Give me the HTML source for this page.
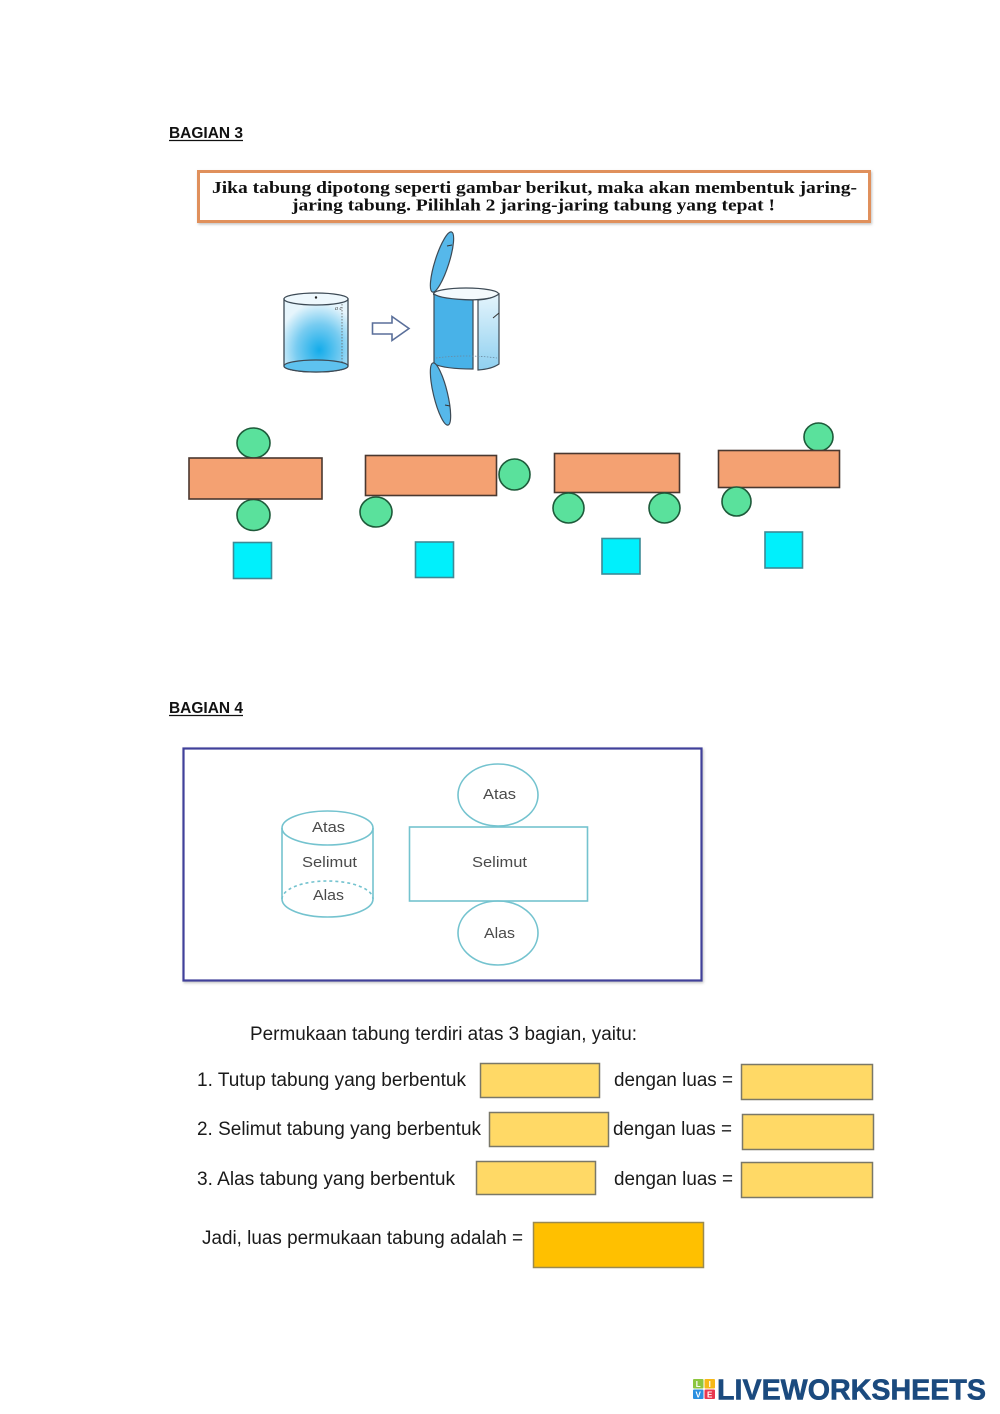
<!DOCTYPE html>
<html>
<head>
<meta charset="utf-8">
<style>
  html,body{margin:0;padding:0;background:#fff;}
  svg{display:block;}
</style>
</head>
<body>
<svg width="1000" height="1414" viewBox="0 0 1000 1414" xmlns="http://www.w3.org/2000/svg">
  <defs>
    <radialGradient id="cylGrad" cx="0.55" cy="0.7" r="0.65">
      <stop offset="0" stop-color="#14acea"/>
      <stop offset="0.55" stop-color="#78ccf1"/>
      <stop offset="1" stop-color="#e6f5fc"/>
    </radialGradient>
    <linearGradient id="rightPanel" x1="0" y1="0" x2="0" y2="1">
      <stop offset="0" stop-color="#e4f4fc"/>
      <stop offset="1" stop-color="#8fd0f0"/>
    </linearGradient>
    <filter id="sh" x="-5%" y="-20%" width="110%" height="140%">
      <feDropShadow dx="1" dy="1.5" stdDeviation="1.2" flood-color="#888" flood-opacity="0.5"/>
    </filter>
  </defs>

  <!-- BAGIAN 3 -->
  <text x="169" y="138" font-family="Liberation Sans, sans-serif" font-weight="bold" font-size="15.5" fill="#111" textLength="74" lengthAdjust="spacingAndGlyphs">BAGIAN 3</text>
  <line x1="169" y1="140.5" x2="243" y2="140.5" stroke="#111" stroke-width="1.2"/>

  <!-- Header box -->
  <rect x="198.5" y="171.5" width="671" height="50" fill="#fff" stroke="#e0905c" stroke-width="3" filter="url(#sh)"/>
  <text x="212" y="193" font-family="Liberation Serif, serif" font-weight="bold" font-size="17" fill="#111" textLength="645" lengthAdjust="spacingAndGlyphs">Jika tabung dipotong seperti gambar berikut, maka akan membentuk jaring-</text>
  <text x="292" y="210.5" font-family="Liberation Serif, serif" font-weight="bold" font-size="17" fill="#111" textLength="483" lengthAdjust="spacingAndGlyphs">jaring tabung. Pilihlah 2 jaring-jaring tabung yang tepat !</text>

  <!-- Cylinder 1 -->
  <path d="M284,299 L284,366 A32,6 0 0,0 348,366 L348,299 Z" fill="url(#cylGrad)" stroke="#3d4a55" stroke-width="1.3"/>
  <ellipse cx="316" cy="366" rx="32" ry="6" fill="#5ec2ef" stroke="#3d4a55" stroke-width="1.3"/>
  <ellipse cx="316" cy="299" rx="32" ry="6" fill="#eef8fd" stroke="#3d4a55" stroke-width="1.3"/>
  <circle cx="316" cy="297.5" r="1.2" fill="#222"/>
  <line x1="342" y1="304" x2="342" y2="362" stroke="#666" stroke-width="0.8" stroke-dasharray="1.5,1.5"/>
  <text x="335" y="310" font-family="Liberation Serif, serif" font-style="italic" font-size="6" fill="#444">a c</text>

  <!-- Arrow -->
  <path d="M372.5,323 L392,323 L392,316.5 L409,328.5 L392,340.5 L392,334 L372.5,334 Z" fill="#fff" stroke="#5a6f9a" stroke-width="1.6" stroke-linejoin="miter"/>

  <!-- Cut cylinder -->
  <ellipse cx="442" cy="262" rx="31.5" ry="7" transform="rotate(-72.4 442 262)" fill="#56b8ea" stroke="#3d4a55" stroke-width="1.2"/>
  <line x1="447" y1="246" x2="452" y2="245" stroke="#333" stroke-width="1"/>
  <ellipse cx="466" cy="294" rx="32.5" ry="6" fill="#f4fafd" stroke="#3d4a55" stroke-width="1.2"/>
  <path d="M434,294 Q440,299 473,300 L473,369 Q445,369 434,364 Z" fill="#48b2e8" stroke="#3d4a55" stroke-width="1.2"/>
  <path d="M478,300 Q492,299 499,294 L499,364 Q492,369 478,370 Z" fill="url(#rightPanel)" stroke="#3d4a55" stroke-width="1.2"/>
  <path d="M436,358 Q466,354 497,358" fill="none" stroke="#6a8aa0" stroke-width="0.8" stroke-dasharray="1.5,1.5"/>
  <line x1="493" y1="318" x2="499" y2="313" stroke="#333" stroke-width="1"/>
  <ellipse cx="440.5" cy="394" rx="32" ry="7" transform="rotate(76.4 440.5 394)" fill="#56b8ea" stroke="#3d4a55" stroke-width="1.2"/>
  <line x1="445" y1="405" x2="450" y2="406" stroke="#333" stroke-width="1"/>

  <!-- Nets -->
  <g stroke-width="1.6">
    <!-- net 1 -->
    <ellipse cx="253.5" cy="443" rx="16.5" ry="15" fill="#5ae19c" stroke="#1e5a3a"/>
    <ellipse cx="253.5" cy="515" rx="16.5" ry="15.5" fill="#5ae19c" stroke="#1e5a3a"/>
    <rect x="189" y="458" width="133" height="41" fill="#f4a172" stroke="#4a3830"/>
    <rect x="233.5" y="542.5" width="38" height="36" fill="#00f0fc" stroke="#3d8a96"/>
    <!-- net 2 -->
    <rect x="365.5" y="455.5" width="131" height="40" fill="#f4a172" stroke="#4a3830"/>
    <ellipse cx="514.5" cy="474.5" rx="15.5" ry="15.5" fill="#5ae19c" stroke="#1e5a3a"/>
    <ellipse cx="376" cy="512" rx="16" ry="15" fill="#5ae19c" stroke="#1e5a3a"/>
    <rect x="415.5" y="542" width="38" height="35.5" fill="#00f0fc" stroke="#3d8a96"/>
    <!-- net 3 -->
    <rect x="554.5" y="453.5" width="125" height="39" fill="#f4a172" stroke="#4a3830"/>
    <ellipse cx="568.5" cy="508" rx="15.5" ry="15" fill="#5ae19c" stroke="#1e5a3a"/>
    <ellipse cx="664.5" cy="508" rx="15.5" ry="15" fill="#5ae19c" stroke="#1e5a3a"/>
    <rect x="602" y="538.5" width="38" height="35.5" fill="#00f0fc" stroke="#3d8a96"/>
    <!-- net 4 -->
    <ellipse cx="818.5" cy="437" rx="14.5" ry="14" fill="#5ae19c" stroke="#1e5a3a"/>
    <rect x="718.5" y="450.5" width="121" height="37" fill="#f4a172" stroke="#4a3830"/>
    <ellipse cx="736.5" cy="501.5" rx="14.5" ry="14.5" fill="#5ae19c" stroke="#1e5a3a"/>
    <rect x="765" y="532" width="37.5" height="36" fill="#00f0fc" stroke="#3d8a96"/>
  </g>

  <!-- BAGIAN 4 -->
  <text x="169" y="713" font-family="Liberation Sans, sans-serif" font-weight="bold" font-size="15.5" fill="#111" textLength="74" lengthAdjust="spacingAndGlyphs">BAGIAN 4</text>
  <line x1="169" y1="715.5" x2="243" y2="715.5" stroke="#111" stroke-width="1.2"/>

  <rect x="183.5" y="748.5" width="518" height="232" fill="#fff" stroke="#3f3f9a" stroke-width="2.2" filter="url(#sh)"/>

  <!-- cylinder diagram -->
  <g fill="none" stroke="#74c3cf" stroke-width="1.6">
    <line x1="282" y1="828" x2="282" y2="899"/>
    <line x1="373" y1="828" x2="373" y2="899"/>
    <path d="M282,899 A45.5,18 0 0,0 373,899"/>
    <path d="M282,899 A45.5,18 0 0,1 373,899" stroke-dasharray="3,3"/>
    <ellipse cx="327.5" cy="828" rx="45.5" ry="17"/>
    <!-- net -->
    <ellipse cx="498" cy="795" rx="40" ry="31"/>
    <rect x="409.5" y="827" width="178" height="74"/>
    <ellipse cx="498" cy="933" rx="40" ry="32"/>
  </g>
  <g font-family="Liberation Sans, sans-serif" font-size="14.5" fill="#4a4a4a">
    <text x="312" y="832" textLength="33" lengthAdjust="spacingAndGlyphs">Atas</text>
    <text x="302" y="867" textLength="55" lengthAdjust="spacingAndGlyphs">Selimut</text>
    <text x="313" y="900" textLength="31" lengthAdjust="spacingAndGlyphs">Alas</text>
    <text x="483" y="799" textLength="33" lengthAdjust="spacingAndGlyphs">Atas</text>
    <text x="472" y="867" textLength="55" lengthAdjust="spacingAndGlyphs">Selimut</text>
    <text x="484" y="938" textLength="31" lengthAdjust="spacingAndGlyphs">Alas</text>
  </g>

  <!-- Questions -->
  <g font-family="Liberation Sans, sans-serif" font-size="19" fill="#1a1a1a">
    <text x="250" y="1040" textLength="387" lengthAdjust="spacingAndGlyphs">Permukaan tabung terdiri atas 3 bagian, yaitu:</text>
    <text x="197" y="1086" textLength="269" lengthAdjust="spacingAndGlyphs">1.  Tutup tabung yang berbentuk</text>
    <text x="614" y="1086" textLength="119" lengthAdjust="spacingAndGlyphs">dengan luas =</text>
    <text x="197" y="1135" textLength="284" lengthAdjust="spacingAndGlyphs">2.  Selimut tabung yang berbentuk</text>
    <text x="613" y="1135" textLength="119" lengthAdjust="spacingAndGlyphs">dengan luas =</text>
    <text x="197" y="1185" textLength="258" lengthAdjust="spacingAndGlyphs">3.  Alas tabung yang berbentuk</text>
    <text x="614" y="1185" textLength="119" lengthAdjust="spacingAndGlyphs">dengan luas =</text>
    <text x="202" y="1244" textLength="321" lengthAdjust="spacingAndGlyphs">Jadi, luas permukaan tabung adalah =</text>
  </g>
  <g fill="#ffd966" stroke="#7a7868" stroke-width="1.5">
    <rect x="480.5" y="1063.5" width="119" height="34"/>
    <rect x="741.5" y="1064.5" width="131" height="35"/>
    <rect x="489.5" y="1112.5" width="119" height="34"/>
    <rect x="742.5" y="1114.5" width="131" height="35"/>
    <rect x="476.5" y="1161.5" width="119" height="33"/>
    <rect x="741.5" y="1162.5" width="131" height="35"/>
  </g>
  <rect x="533.5" y="1222.5" width="170" height="45" fill="#ffc000" stroke="#9a8a50" stroke-width="1.5"/>

  <!-- Logo -->
  <g font-family="Liberation Sans, sans-serif" font-weight="bold" font-size="8" fill="#fff" text-anchor="middle">
    <rect x="693" y="1379" width="10.5" height="9.5" rx="1" fill="#8cc63f"/>
    <rect x="704.5" y="1379" width="10.5" height="9.5" rx="1" fill="#f6b818"/>
    <rect x="693" y="1389.5" width="10.5" height="9.5" rx="1" fill="#2a8fe0"/>
    <rect x="704.5" y="1389.5" width="10.5" height="9.5" rx="1" fill="#e8384f"/>
    <text x="698.2" y="1387">L</text>
    <text x="709.7" y="1387">I</text>
    <text x="698.2" y="1397.5">V</text>
    <text x="709.7" y="1397.5">E</text>
  </g>
  <text x="717" y="1399.5" font-family="Liberation Sans, sans-serif" font-weight="bold" font-size="29" fill="#1b4a7e" stroke="#1b4a7e" stroke-width="0.6" textLength="269" lengthAdjust="spacingAndGlyphs">LIVEWORKSHEETS</text>
</svg>
</body>
</html>
